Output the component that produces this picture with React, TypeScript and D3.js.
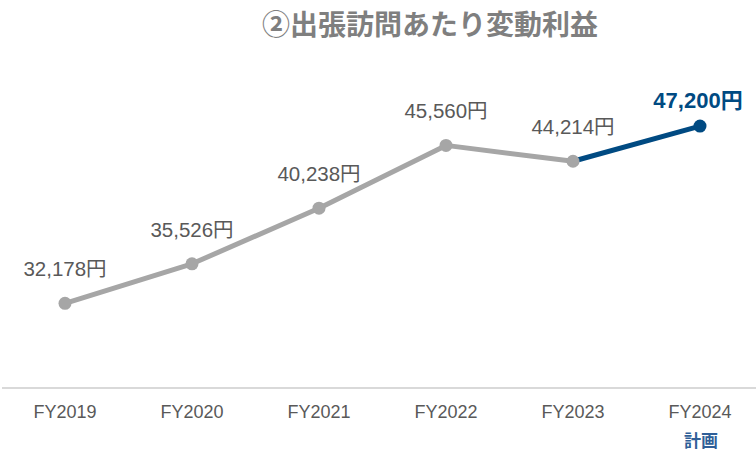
import React from 'react'
import * as d3 from 'd3'

const width = 756
const height = 451

const categories = ['FY2019', 'FY2020', 'FY2021', 'FY2022', 'FY2023', 'FY2024']
const values = [32178, 35526, 40238, 45560, 44214, 47200]
const subLabels = ['', '', '', '', '', '計画']
const title = '②出張訪問あたり変動利益'

const font = "'Liberation Sans', 'Noto Sans CJK JP', sans-serif"
const gray = '#a6a6a6'
const blue = '#004a82'

const App = () => {
  const xScale = d3.scaleBand().domain(categories).range([1.5, 763.5])
  const yScale = d3.scaleLinear().domain([25000, 50000]).range([388, 93])
  const cx = (c: string) => (xScale(c) ?? 0) + xScale.bandwidth() / 2

  const pts = categories.map((c, i) => ({ c, v: values[i], x: cx(c), y: yScale(values[i]) }))
  const line = d3.line<{ x: number; y: number }>().x(d => d.x).y(d => d.y)
  const actual = pts.slice(0, 5)
  const plan = pts.slice(4)
  const fmt = d3.format(',')

  return (
    <svg width={width} height={height} style={{ position: 'absolute', left: 0, top: 0 }}>
      <text x={430} y={35} textAnchor="middle" fontFamily={font} fontWeight="bold" fontSize={28} fill="#7f7f7f">
        {title}
      </text>
      <line x1={2} x2={width} y1={388} y2={388} stroke="#d9d9d9" strokeWidth={2} />
      <path d={line(actual) ?? ''} fill="none" stroke={gray} strokeWidth={5} strokeLinejoin="round" />
      <path d={line(plan) ?? ''} fill="none" stroke={blue} strokeWidth={5} />
      {pts.map((p, i) => (
        <circle key={p.c} cx={p.x} cy={p.y} r={6.5} fill={i === 5 ? blue : gray} />
      ))}
      {pts.map((p, i) => (
        <text
          key={'l' + p.c}
          x={p.x - (i === 5 ? 2 : 0)}
          y={p.y - (i === 5 ? 18 : 27)}
          textAnchor="middle"
          fontFamily={font}
          fontSize={i === 5 ? 22 : 20.5}
          fontWeight={i === 5 ? 'bold' : 'normal'}
          fill={i === 5 ? blue : '#595959'}
        >
          {fmt(p.v) + '円'}
        </text>
      ))}
      {categories.map((c, i) => (
        <g key={'t' + c}>
          <text x={cx(c)} y={418} textAnchor="middle" fontFamily={font} fontSize={18} fill="#595959">
            {c}
          </text>
          {subLabels[i] && (
            <text x={cx(c) + 1} y={447} textAnchor="middle" fontFamily={font} fontSize={17} fontWeight="bold" fill="#2f5f98">
              {subLabels[i]}
            </text>
          )}
        </g>
      ))}
    </svg>
  )
}

export default App
